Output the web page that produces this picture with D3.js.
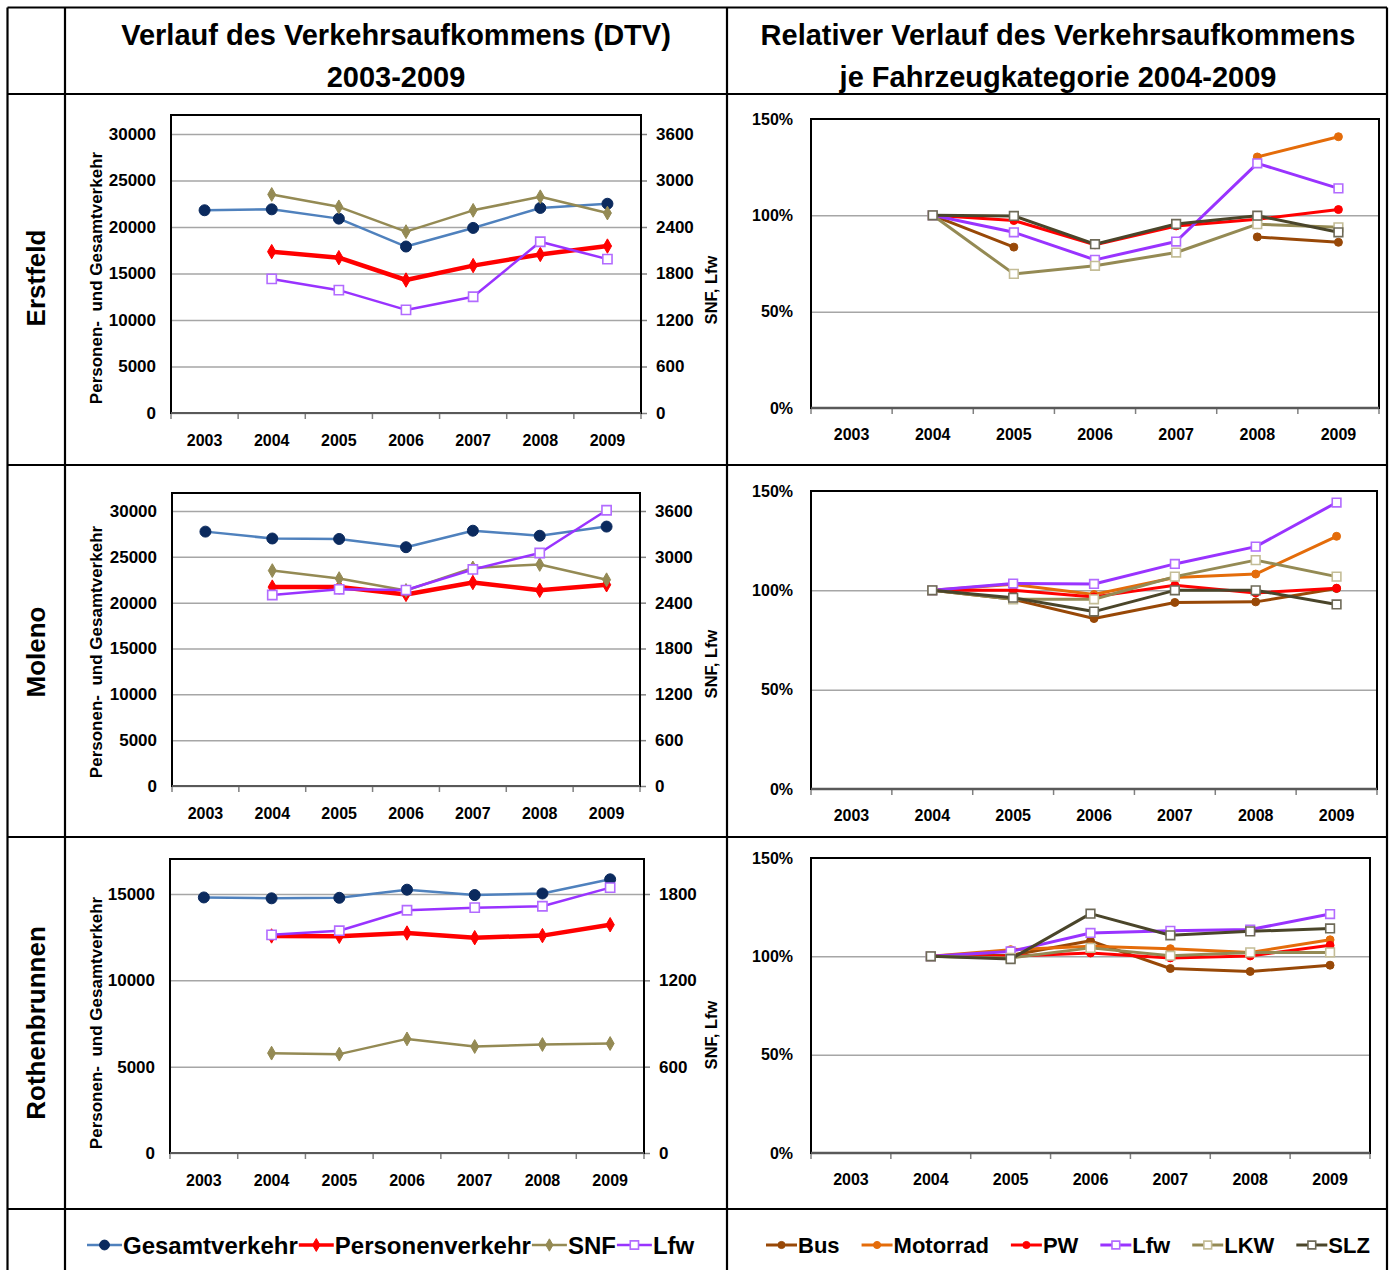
<!DOCTYPE html>
<html><head><meta charset="utf-8">
<script src="https://cdn.jsdelivr.net/npm/d3@7"></script>
<style>
body{margin:0;background:#fff}
svg{display:block}
text{font-family:"Liberation Sans",Arial,sans-serif;font-weight:bold;fill:#000}
</style>
</head><body>
<svg id="c" width="1395" height="1270"></svg>
<script>
// ---------- DATA ----------
const years = ["2003","2004","2005","2006","2007","2008","2009"];
const stations = ["Erstfeld","Moleno","Rothenbrunnen"];
const headerLeft = ["Verlauf des Verkehrsaufkommens (DTV)","2003-2009"];
const headerRight = ["Relativer Verlauf des Verkehrsaufkommens","je Fahrzeugkategorie 2004-2009"];
const leftAxisTitle = "Personen-  und Gesamtverkehr";
const rightAxisTitle = "SNF, Lfw";

// absolute DTV (left axis: Gesamt, Personen; right axis: SNF, Lfw)
const erstfeldGesamt   = [21800,21900,20900,17900,19900,22050,22500];
const erstfeldPersonen = [null,17350,16700,14300,15850,17050,17950];
const erstfeldSNF      = [null,2820,2660,2340,2615,2790,2580];
const erstfeldLfw      = [null,1730,1585,1330,1500,2210,1985];

const molenoGesamt   = [27750,27000,26950,26050,27850,27300,28300];
const molenoPersonen = [null,21700,21700,20900,22200,21350,21950];
const molenoSNF      = [null,2820,2715,2560,2855,2900,2700];
const molenoLfw      = [null,2500,2575,2565,2835,3050,3610];

const rothGesamt   = [14800,14750,14780,15250,14940,15030,15850];
const rothPersonen = [null,12570,12550,12740,12470,12590,13220];
const rothSNF      = [null,694,687,793,740,754,761];
const rothLfw      = [null,1516,1545,1687,1705,1715,1844];

// relative (2004 = 100%)
const erstfeldBus      = [null,1.00,0.835,null,null,0.888,0.860];
const erstfeldMotorrad = [null,1.00,null,null,null,1.303,1.408];
const erstfeldPW       = [null,1.00,0.973,0.847,0.945,0.980,1.030];
const erstfeldLfwRel   = [null,1.00,0.912,0.769,0.864,1.270,1.140];
const erstfeldLKW      = [null,1.00,0.696,0.738,0.807,0.954,0.938];
const erstfeldSLZ      = [null,1.00,0.997,0.850,0.955,0.998,0.912];

const molenoBus      = [null,1.00,0.955,0.858,0.939,0.942,1.009];
const molenoMotorrad = [null,1.00,1.030,0.979,1.065,1.082,1.272];
const molenoPW       = [null,1.00,1.000,0.967,1.026,0.987,1.011];
const molenoLfwRel   = [null,1.00,1.034,1.032,1.133,1.220,1.442];
const molenoLKW      = [null,1.00,0.955,0.955,1.069,1.152,1.069];
const molenoSLZ      = [null,1.00,0.963,0.893,1.000,1.000,0.929];

const rothBus      = [null,1.00,1.005,1.079,0.938,0.923,0.955];
const rothMotorrad = [null,1.00,1.034,1.051,1.039,1.020,1.084];
const rothPW       = [null,1.00,1.000,1.017,0.992,1.002,1.056];
const rothLfwRel   = [null,1.00,1.025,1.119,1.130,1.136,1.215];
const rothLKW      = [null,1.00,0.992,1.043,1.003,1.020,1.020];
const rothSLZ      = [null,1.00,0.986,1.217,1.107,1.127,1.142];

const leftTicksBig   = [0,5000,10000,15000,20000,25000,30000];
const rightTicksBig  = [0,600,1200,1800,2400,3000,3600];
const leftTicksSmall = [0,5000,10000,15000];
const rightTicksSmall= [0,600,1200,1800];
const pctTicks = [0,0.5,1,1.5];

const leftNames  = ["Gesamtverkehr","Personenverkehr","SNF","Lfw"];
const rightNames = ["Bus","Motorrad","PW","Lfw","LKW","SLZ"];

// ---------- STYLES / LAYOUT ----------
const leftStyle = [
  {color:"#4F81BD", w:2.5, axis:"L", mk:"circle", mkFill:"#0B2A5E", mkStroke:"#0B2A5E", size:95},
  {color:"#FF0000", w:4.5, axis:"L", mk:"diamond", mkFill:"#FF0000", mkStroke:"#FF0000", size:60},
  {color:"#948A54", w:2.5, axis:"R", mk:"diamond", mkFill:"#948A54", mkStroke:"#948A54", size:55},
  {color:"#9933FF", w:2.5, axis:"R", mk:"square", mkFill:"#fff", mkStroke:"#B26BFF", size:85}
];
const rightStyle = [
  {color:"#984807", w:3, mk:"circle", mkFill:"#984807", mkStroke:"#984807", size:50},
  {color:"#E46C0A", w:3, mk:"circle", mkFill:"#E46C0A", mkStroke:"#E46C0A", size:50},
  {color:"#FF0000", w:3, mk:"circle", mkFill:"#FF0000", mkStroke:"#FF0000", size:50},
  {color:"#9933FF", w:3, mk:"square", mkFill:"#fff", mkStroke:"#B26BFF", size:75},
  {color:"#948A54", w:3, mk:"square", mkFill:"#fff", mkStroke:"#C4BD97", size:75},
  {color:"#4A452A", w:3, mk:"square", mkFill:"#fff", mkStroke:"#6E6A58", size:75}
];

const leftData = [
  [erstfeldGesamt, erstfeldPersonen, erstfeldSNF, erstfeldLfw],
  [molenoGesamt, molenoPersonen, molenoSNF, molenoLfw],
  [rothGesamt, rothPersonen, rothSNF, rothLfw]
];
const rightData = [
  [erstfeldBus, erstfeldMotorrad, erstfeldPW, erstfeldLfwRel, erstfeldLKW, erstfeldSLZ],
  [molenoBus, molenoMotorrad, molenoPW, molenoLfwRel, molenoLKW, molenoSLZ],
  [rothBus, rothMotorrad, rothPW, rothLfwRel, rothLKW, rothSLZ]
];
const leftTicks = [[leftTicksBig,rightTicksBig],[leftTicksBig,rightTicksBig],[leftTicksSmall,rightTicksSmall]];

const layout = [
  {L:{x0:171,x1:641,top:115,bottom:413,gridTop:134}, R:{x0:811,x1:1379,top:119,bottom:408}, cy:278},
  {L:{x0:172,x1:640,top:493,bottom:786,gridTop:511}, R:{x0:811,x1:1377,top:491,bottom:789}, cy:652},
  {L:{x0:170,x1:644,top:859,bottom:1153,gridTop:894}, R:{x0:811,x1:1370,top:858,bottom:1153}, cy:1023}
];

const svg = d3.select("#c");
const GRID = "#A6A6A6";

function symbolPath(type, size){
  const t = type==="circle"?d3.symbolCircle:type==="diamond"?d3.symbolDiamond:d3.symbolSquare;
  return d3.symbol().type(t).size(size)();
}

function drawSeries(g, x, y, values, st){
  const pts = years.map((yr,i)=>({yr, v:values[i]}));
  const line = d3.line().defined(d=>d.v!=null).x(d=>x(d.yr)+x.bandwidth()/2).y(d=>y(d.v));
  g.append("path").datum(pts).attr("fill","none").attr("stroke",st.color)
    .attr("stroke-width",st.w).attr("stroke-linejoin","round").attr("d",line);
  g.selectAll(null).data(pts.filter(d=>d.v!=null)).enter().append("path")
    .attr("d",symbolPath(st.mk, st.size))
    .attr("transform",d=>`translate(${x(d.yr)+x.bandwidth()/2},${y(d.v)})`)
    .attr("fill",st.mkFill).attr("stroke",st.mkStroke).attr("stroke-width",st.mk==="square"?1.6:1);
}

function xAxisStuff(g, x, P, labelOffset){
  const bounds = years.map(yr=>x(yr)).concat([x.range()[1]]);
  g.selectAll(null).data(bounds).enter().append("line")
    .attr("x1",d=>d).attr("x2",d=>d).attr("y1",P.bottom).attr("y2",P.bottom+6)
    .attr("stroke","#808080").attr("stroke-width",1.5);
  const ax = g.append("g").attr("transform",`translate(0,${P.bottom})`)
    .call(d3.axisBottom(x).tickSize(0).tickPadding(labelOffset));
  ax.select(".domain").remove();
  ax.selectAll("text").attr("font-size",16).style("font-family","'Liberation Sans',Arial,sans-serif").style("font-weight","bold");
}

layout.forEach((Lay, r)=>{
  // ---- left chart ----
  const P = Lay.L;
  const g = svg.append("g");
  const x = d3.scaleBand().domain(years).range([P.x0,P.x1]).padding(0);
  const [lt, rt] = leftTicks[r];
  const yL = d3.scaleLinear().domain([0,d3.max(lt)]).range([P.bottom,P.gridTop]);
  const yR = d3.scaleLinear().domain([0,d3.max(rt)]).range([P.bottom,P.gridTop]);
  const grid = g.append("g").attr("transform",`translate(${P.x0},0)`)
    .call(d3.axisLeft(yL).tickValues(lt).tickSize(-(P.x1-P.x0)).tickFormat(""));
  grid.select(".domain").remove();
  grid.selectAll("line").attr("stroke",GRID).attr("stroke-width",1.5);
  const al = g.append("g").attr("transform",`translate(${P.x0},0)`)
    .call(d3.axisLeft(yL).tickValues(lt).tickSize(0).tickPadding(15).tickFormat(d3.format("d")));
  al.select(".domain").remove();
  al.selectAll("text").attr("font-size",17).style("font-family","'Liberation Sans',Arial,sans-serif").style("font-weight","bold");
  const ar = g.append("g").attr("transform",`translate(${P.x1},0)`)
    .call(d3.axisRight(yR).tickValues(rt).tickSize(6).tickPadding(9).tickFormat(d3.format("d")));
  ar.select(".domain").remove();
  ar.selectAll("line").attr("stroke","#808080").attr("stroke-width",1.5);
  ar.selectAll("text").attr("font-size",17).style("font-family","'Liberation Sans',Arial,sans-serif").style("font-weight","bold");
  xAxisStuff(g, x, P, 22);
  g.append("rect").attr("x",P.x0).attr("y",P.top).attr("width",P.x1-P.x0).attr("height",P.bottom-P.top)
    .attr("fill","none").attr("stroke","#000").attr("stroke-width",2);
  g.append("line").attr("x1",P.x0).attr("x2",P.x1).attr("y1",P.bottom).attr("y2",P.bottom)
    .attr("stroke","#595959").attr("stroke-width",2);
  leftData[r].forEach((vals,i)=>{
    const st = leftStyle[i];
    drawSeries(g, x, st.axis==="L"?yL:yR, vals, st);
  });
  g.append("text").attr("transform",`translate(102,${Lay.cy}) rotate(-90)`)
    .attr("text-anchor","middle").attr("font-size",17).style("white-space","pre").text(leftAxisTitle);
  g.append("text").attr("transform",`translate(717,${Lay.cy+12}) rotate(-90)`)
    .attr("text-anchor","middle").attr("font-size",16.5).text(rightAxisTitle);
  svg.append("text").attr("transform",`translate(45,${Lay.cy}) rotate(-90)`)
    .attr("text-anchor","middle").attr("font-size",26).text(stations[r]);

  // ---- right chart ----
  const Q = Lay.R;
  const h = svg.append("g");
  const x2 = d3.scaleBand().domain(years).range([Q.x0,Q.x1]).padding(0);
  const yP = d3.scaleLinear().domain([0,1.5]).range([Q.bottom,Q.top]);
  const grid2 = h.append("g").attr("transform",`translate(${Q.x0},0)`)
    .call(d3.axisLeft(yP).tickValues(pctTicks.slice(1,3)).tickSize(-(Q.x1-Q.x0)).tickFormat(""));
  grid2.select(".domain").remove();
  grid2.selectAll("line").attr("stroke",GRID).attr("stroke-width",1.5);
  const ap = h.append("g").attr("transform",`translate(${Q.x0},0)`)
    .call(d3.axisLeft(yP).tickValues(pctTicks).tickSize(0).tickPadding(18).tickFormat(d3.format(".0%")));
  ap.select(".domain").remove();
  ap.selectAll("text").attr("font-size",16).style("font-family","'Liberation Sans',Arial,sans-serif").style("font-weight","bold");
  xAxisStuff(h, x2, Q, 21);
  h.append("rect").attr("x",Q.x0).attr("y",Q.top).attr("width",Q.x1-Q.x0).attr("height",Q.bottom-Q.top)
    .attr("fill","none").attr("stroke","#000").attr("stroke-width",2);
  h.append("line").attr("x1",Q.x0).attr("x2",Q.x1).attr("y1",Q.bottom).attr("y2",Q.bottom)
    .attr("stroke","#595959").attr("stroke-width",2.5);
  rightData[r].forEach((vals,i)=>drawSeries(h, x2, yP, vals, rightStyle[i]));
});

// ---------- headers ----------
headerLeft.forEach((t,i)=>svg.append("text").attr("x",396).attr("y",45+i*42)
  .attr("text-anchor","middle").attr("font-size",29).text(t));
headerRight.forEach((t,i)=>svg.append("text").attr("x",1058).attr("y",45+i*42)
  .attr("text-anchor","middle").attr("font-size",29).text(t));

// ---------- legends ----------
function legend(names, styles, x0, yc, lineLen, fs, gap){
  let x = x0;
  names.forEach((n,i)=>{
    const st = styles[i];
    const g = svg.append("g");
    g.append("line").attr("x1",x).attr("x2",x+lineLen).attr("y1",yc).attr("y2",yc)
      .attr("stroke",st.color).attr("stroke-width",Math.min(st.w,3.5));
    g.append("path").attr("d",symbolPath(st.mk, st.size*0.8))
      .attr("transform",`translate(${x+lineLen/2},${yc})`)
      .attr("fill",st.mkFill).attr("stroke",st.mkStroke).attr("stroke-width",st.mk==="square"?1.6:1);
    const t = g.append("text").attr("x",x+lineLen+1).attr("y",yc+fs*0.36).attr("font-size",fs).text(n);
    x += lineLen + 1 + t.node().getComputedTextLength() + gap;
  });
}
legend(leftNames, leftStyle, 87, 1245, 35, 24, 1);
legend(rightNames, rightStyle, 766, 1245, 31, 22, 22);

// ---------- table grid ----------
const tg = svg.append("g").attr("stroke","#000").attr("stroke-width",2.2);
[[7.5,7.5,1387,7.5],[7.5,94,1387,94],[7.5,465,1387,465],[7.5,837,1387,837],[7.5,1209,1387,1209],
 [7.5,7.5,7.5,1270],[65,7.5,65,1270],[727,7.5,727,1270],[1387,7.5,1387,1270]]
 .forEach(l=>tg.append("line").attr("x1",l[0]).attr("y1",l[1]).attr("x2",l[2]).attr("y2",l[3]));
</script>
</body></html>
